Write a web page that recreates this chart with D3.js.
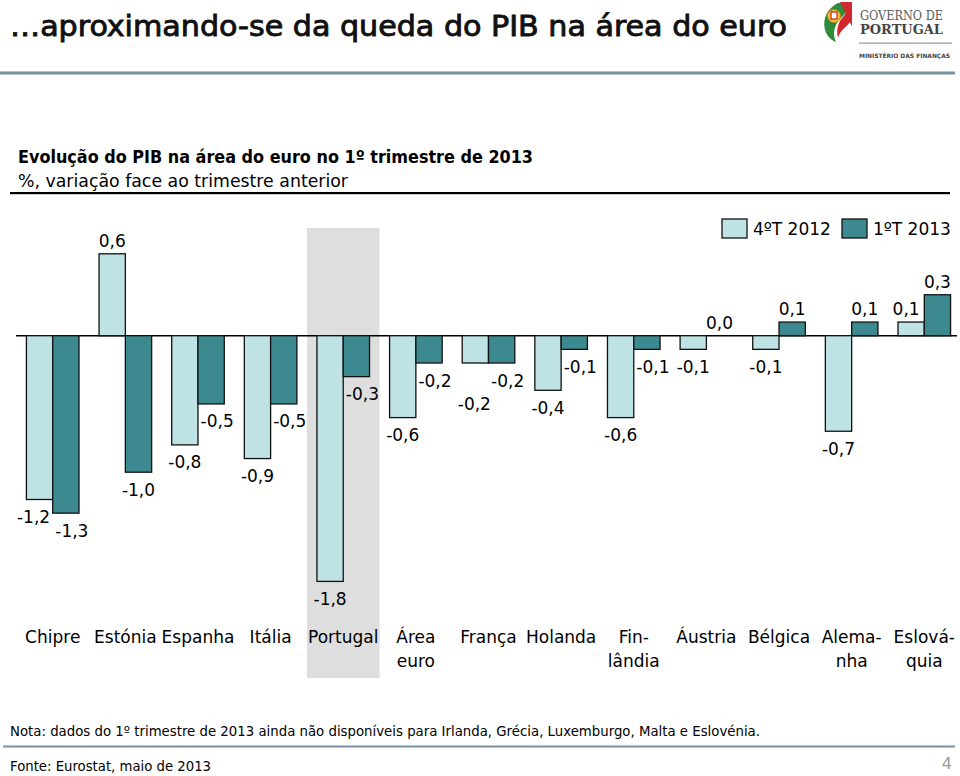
<!DOCTYPE html>
<html>
<head>
<meta charset="utf-8">
<script src="https://cdn.jsdelivr.net/npm/d3@7"></script>
<style>
  html, body { margin: 0; padding: 0; background: #fff; }
  svg { display: block; }
  text { font-family: "DejaVu Sans", Verdana, sans-serif; fill: #000; }
</style>
</head>
<body>
<svg id="chart" width="960" height="776"></svg>
<script>
// ---- Data ----
const categories = ["Chipre", "Estónia", "Espanha", "Itália", "Portugal", "Área euro",
  "França", "Holanda", "Finlândia", "Áustria", "Bélgica", "Alemanha", "Eslováquia"];
const categoryLabels = ["Chipre", "Estónia", "Espanha", "Itália", "Portugal", "Área\neuro",
  "França", "Holanda", "Fin-\nlândia", "Áustria", "Bélgica", "Alema-\nnha", "Eslová-\nquia"];
const seriesNames = ["4ºT 2012", "1ºT 2013"];
const q4_2012 = [-1.2, 0.6, -0.8, -0.9, -1.8, -0.6, -0.2, -0.4, -0.6, -0.1, -0.1, -0.7, 0.1];
const q1_2013 = [-1.3, -1.0, -0.5, -0.5, -0.3, -0.2, -0.2, -0.1, -0.1, 0.0, 0.1, 0.1, 0.3];
const highlighted = "Portugal";

const title = "…aproximando-se da queda do PIB na área do euro";
const subtitle = "Evolução do PIB na área do euro no 1º trimestre de 2013";
const unitsLine = "%, variação face ao trimestre anterior";
const noteText = "Nota: dados do 1º trimestre de 2013 ainda não disponíveis para Irlanda, Grécia, Luxemburgo, Malta e Eslovénia.";
const sourceText = "Fonte: Eurostat, maio de 2013";
const pageNumber = "4";

// ---- Styles ----
const lightColor = "#bfe2e4";
const darkColor = "#3c8a8f";
const ruleColor = "#7892a2";
const fmt = v => d3.format(".1f")(v).replace(".", ",").replace("−", "-");
// manual label nudges (pixels) to avoid collisions, as in the original
const labelNudge = {
  "Chipre|4ºT 2012": [-6, 0],
  "Estónia|1ºT 2013": [-6, 0],
  "França|4ºT 2012": [-1, 23],
  "Eslováquia|4ºT 2012": [-5, 0]
};

const svg = d3.select("#chart");

// ---- Header ----
svg.append("text").attr("x", 10).attr("y", 36)
  .attr("font-size", 28)
  .attr("textLength", 777).attr("lengthAdjust", "spacingAndGlyphs")
  .style("font-family", "'DejaVu Sans Condensed', 'DejaVu Sans', sans-serif")
  .style("fill", "#111").style("stroke", "#111").style("stroke-width", 0.8)
  .text(title);

svg.append("rect").attr("x", 0).attr("y", 71.5).attr("width", 955).attr("height", 3).attr("fill", ruleColor);

// Logo
const logo = svg.append("g");
logo.append("path").attr("d", "M838,3 C828,8 822,18 825,30 C827,36 831,40 836,42 C832,34 834,24 842,17 C846,13 849,8 848,3 Z").attr("fill", "#2f8a3b");
logo.append("path").attr("d", "M848,3 C852,8 853,16 850,22 C846,28 840,30 838,38 C836,30 838,22 843,17 C847,12 848,8 848,3 Z").attr("fill", "#d3272e");
logo.append("path").attr("d", "M840,2 L852,2 L852,26 C848,20 846,12 840,2 Z").attr("fill", "#d3272e");
logo.append("circle").attr("cx", 834).attr("cy", 16).attr("r", 6.5).attr("fill", "#f2c230").attr("stroke", "#c08a10").attr("stroke-width", 1);
logo.append("rect").attr("x", 831).attr("y", 12).attr("width", 6).attr("height", 7).attr("fill", "#fff").attr("stroke", "#c8202a").attr("stroke-width", 1.2);
logo.append("text").attr("x", 860).attr("y", 19.5).attr("font-size", 12)
  .style("font-family", "'DejaVu Serif', serif").style("fill", "#5a5a5a")
  .attr("textLength", 83).attr("lengthAdjust", "spacingAndGlyphs").text("GOVERNO DE");
logo.append("text").attr("x", 860).attr("y", 34).attr("font-size", 12).attr("font-weight", "bold")
  .style("font-family", "'DejaVu Serif', serif").style("fill", "#444")
  .attr("textLength", 83).attr("lengthAdjust", "spacingAndGlyphs").text("PORTUGAL");
logo.append("rect").attr("x", 859).attr("y", 42.5).attr("width", 93).attr("height", 1.2).attr("fill", "#999");
logo.append("text").attr("x", 859).attr("y", 57.5).attr("font-size", 6).attr("font-weight", "bold")
  .style("font-family", "'DejaVu Sans Condensed', sans-serif").style("fill", "#444")
  .attr("textLength", 91).attr("lengthAdjust", "spacingAndGlyphs").text("MINISTÉRIO DAS FINANÇAS");

// Subtitle
svg.append("text").attr("x", 18).attr("y", 163).attr("font-size", 17).attr("font-weight", "bold")
  .attr("textLength", 515).attr("lengthAdjust", "spacingAndGlyphs").text(subtitle);
svg.append("text").attr("x", 18).attr("y", 187).attr("font-size", 17)
  .attr("textLength", 330).attr("lengthAdjust", "spacingAndGlyphs").text(unitsLine);
svg.append("rect").attr("x", 10).attr("y", 192).attr("width", 940).attr("height", 2.2).attr("fill", "#000");

// ---- Scales ----
const x0 = d3.scaleBand().domain(categories).range([16.4, 960.6]).paddingInner(0.276).paddingOuter(0.138);
const x1 = d3.scaleBand().domain(seriesNames).range([0, x0.bandwidth()]);
const y = d3.scaleLinear().domain([-1.8, 0.6]).range([581.4, 253.8]);
const color = d3.scaleOrdinal().domain(seriesNames).range([lightColor, darkColor]);

const rows = categories.map((c, i) => ({
  cat: c, label: categoryLabels[i],
  values: [{ c, s: seriesNames[0], v: q4_2012[i] }, { c, s: seriesNames[1], v: q1_2013[i] }]
}));

// Highlight band
const step = x0.step();
svg.append("rect")
  .attr("x", x0(highlighted) - (step - x0.bandwidth()) / 2)
  .attr("y", 228).attr("width", step).attr("height", 450)
  .attr("fill", "#dedede");

// Zero line
svg.append("line").attr("x1", 16).attr("x2", 957).attr("y1", y(0)).attr("y2", y(0))
  .attr("stroke", "#000").attr("stroke-width", 1.5);

// Bars
const groups = svg.append("g").selectAll("g").data(rows).join("g")
  .attr("transform", d => `translate(${x0(d.cat)},0)`);

groups.selectAll("rect").data(d => d.values.filter(e => e.v !== 0)).join("rect")
  .attr("x", e => x1(e.s))
  .attr("width", x1.bandwidth())
  .attr("y", e => y(Math.max(0, e.v)))
  .attr("height", e => Math.abs(y(e.v) - y(0)))
  .attr("fill", e => color(e.s))
  .attr("stroke", "#111").attr("stroke-width", 1.3);

// Value labels
const nudge = e => labelNudge[e.c + "|" + e.s] || [0, 0];
groups.selectAll("text.val").data(d => d.values).join("text")
  .attr("class", "val")
  .attr("x", e => x1(e.s) + x1.bandwidth() / 2 + (e.s === seriesNames[1] && e.v < 0 ? 6 : 0) + nudge(e)[0])
  .attr("y", e => (e.v >= 0 ? y(e.v) - 13 : y(e.v) + 17.5) + nudge(e)[1])
  .attr("dominant-baseline", "central")
  .attr("text-anchor", "middle")
  .attr("font-size", 17)
  .text(e => fmt(e.v));

// Category axis
const axis = d3.axisBottom(x0).tickSize(0).tickFormat((d, i) => categoryLabels[i]);
const axG = svg.append("g").attr("transform", "translate(0,626)").call(axis);
axG.select(".domain").remove();
axG.selectAll(".tick text").each(function(d, i) {
  const t = d3.select(this);
  const lines = categoryLabels[i].split("\n");
  t.text(null).attr("y", 0).attr("dy", null)
    .attr("font-size", 17).attr("fill", "#000")
    .style("font-family", "'DejaVu Sans', sans-serif");
  lines.forEach((ln, j) => {
    t.append("tspan").attr("x", 0).attr("y", 17 + j * 24).text(ln);
  });
});

// Legend
const legend = svg.append("g");
const legendX = [722, 842];
seriesNames.forEach((s, i) => {
  legend.append("rect").attr("x", legendX[i]).attr("y", 219).attr("width", 25).attr("height", 19)
    .attr("fill", color(s)).attr("stroke", "#111").attr("stroke-width", 1.3);
  legend.append("text").attr("x", legendX[i] + 31).attr("y", 229)
    .attr("dominant-baseline", "central").attr("font-size", 17).text(s);
});

// Footer
svg.append("text").attr("x", 10).attr("y", 736).attr("font-size", 14.5)
  .attr("textLength", 750).attr("lengthAdjust", "spacingAndGlyphs").text(noteText);
svg.append("rect").attr("x", 3).attr("y", 745.5).attr("width", 952).attr("height", 2).attr("fill", ruleColor);
svg.append("text").attr("x", 10).attr("y", 771).attr("font-size", 14.5)
  .attr("textLength", 201).attr("lengthAdjust", "spacingAndGlyphs").text(sourceText);
svg.append("text").attr("x", 952).attr("y", 769).attr("font-size", 16).attr("text-anchor", "end")
  .style("fill", "#9a9a9a").text(pageNumber);
</script>
</body>
</html>
